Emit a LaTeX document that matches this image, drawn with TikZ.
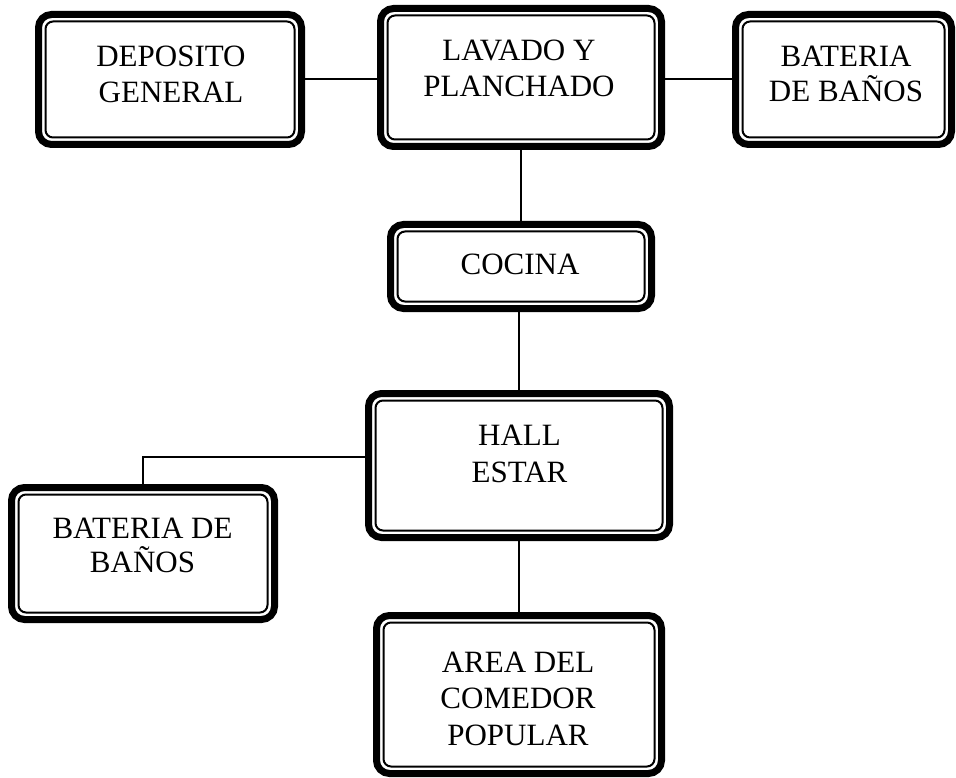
\documentclass[tikz,border=0pt]{standalone}
\usepackage{fontspec}
\setmainfont{Liberation Serif}
\begin{document}
\begin{tikzpicture}[x=1pt, y=-1pt,
  room/.style={draw, line width=7pt, rounded corners=13pt, inner sep=0pt},
  innerline/.style={draw, line width=2pt, rounded corners=7.5pt},
  lbl/.style={anchor=base, inner sep=0pt, font=\fontsize{31}{37}\selectfont},
  link/.style={draw, line width=2pt}]
\useasboundingbox (0,0) rectangle (956,778);

% boxes
\node[room, minimum width=263pt, minimum height=130pt] (dep)  at (170,79.5) {};
\node[room, minimum width=281pt, minimum height=138pt] (lav)  at (521,77.5) {};
\node[room, minimum width=216pt, minimum height=130pt] (bat1) at (843.5,79.5) {};
\node[room, minimum width=261pt, minimum height=84pt]  (coc)  at (521,266.5) {};
\node[room, minimum width=301pt, minimum height=144pt] (hall) at (519,465.5) {};
\node[room, minimum width=263pt, minimum height=132pt] (bat2) at (143,553.5) {};
\node[room, minimum width=285pt, minimum height=158pt] (area) at (519,694.5) {};

\foreach \n in {dep,lav,bat1,coc,hall,bat2,area}
  \draw[innerline] ([shift={(10.5pt,10.5pt)}]\n.south west) rectangle ([shift={(-10.5pt,-10.5pt)}]\n.north east);

% texts
\node[lbl] (dep1) at (171,67) {DEPOSITO};
\node[lbl] (dep2) at (171,103) {GENERAL};
\node[lbl] (lav1) at (519,60.7) {LAVADO Y};
\node[lbl] (lav2) at (519,96.7) {PLANCHADO};
\node[lbl] (bat1a) at (846,67) {BATERIA};
\node[lbl] (bat1b) at (846,102) {DE BAÑOS};
\node[lbl] (coc1) at (520,275) {COCINA};
\node[lbl] (hall1) at (519.5,445) {HALL};
\node[lbl] (hall2) at (519.5,482.7) {ESTAR};
\node[lbl] (bat2a) at (142.5,538) {BATERIA DE};
\node[lbl] (bat2b) at (142.5,572) {BAÑOS};
\node[lbl] (area1) at (518,672) {AREA DEL};
\node[lbl] (area2) at (518,708) {COMEDOR};
\node[lbl] (area3) at (518,745) {POPULAR};

% connectors
\draw[link] (dep.east) -- (dep.east -| lav.west);
\draw[link] (bat1.west -| lav.east) -- (bat1.west);
\draw[link] (lav.south) -- (lav.south |- coc.north);
\draw[link] (coc.south -| hall.north) -- (hall.north);
\draw[link] ([yshift=8.5pt]hall.west) -| (bat2.north);
\draw[link] (hall.south) -- (hall.south |- area.north);
\end{tikzpicture}
\end{document}
